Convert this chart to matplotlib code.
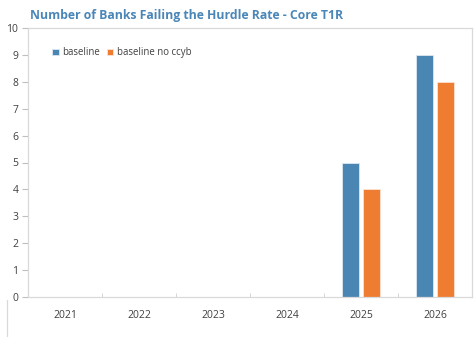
import numpy as np
import matplotlib.pyplot as plt
from matplotlib.lines import Line2D

years = ['2021', '2022', '2023', '2024', '2025', '2026']
baseline = [0, 0, 0, 0, 5, 9]
baseline_no_ccyb = [0, 0, 0, 0, 4, 8]

blue = '#4A86B3'
orange = '#EE7D31'
txt = '#404040'

plt.rcParams['font.family'] = ['Open Sans', 'DejaVu Sans']

fig = plt.figure(figsize=(4.77, 3.37), dpi=100)
ax = fig.add_axes([28 / 477, 1 - 297 / 337, 444 / 477, 269 / 337])

x = np.arange(len(years))
w = 0.22
ax.bar(x - 0.142, baseline, w, color=blue, edgecolor='#DCE8F2', linewidth=0.6, label='baseline')
ax.bar(x + 0.142, baseline_no_ccyb, w, color=orange, edgecolor='#FBE3D2', linewidth=0.6, label='baseline no ccyb')

ax.set_xlim(-0.5, len(years) - 0.5)
ax.set_ylim(0, 10)
ax.set_yticks(range(0, 11))
ax.set_xticks(x)
ax.set_xticklabels(years)
ax.set_xticks(np.arange(0.5, len(years) - 1, 1), minor=True)
ax.tick_params(axis='y', length=4, color='#BFBFBF', labelsize=7.5, labelcolor=txt, pad=3)
ax.tick_params(axis='x', which='major', length=0, labelsize=7.5, labelcolor=txt, pad=9)
ax.tick_params(axis='x', which='minor', length=3, direction='in', color='#D0D0D0')
for s in ax.spines.values():
    s.set_color('#D9D9D9')
    s.set_linewidth(0.9)

ax.legend(loc='upper left', bbox_to_anchor=(0.035, 0.96), ncol=2, frameon=False,
          fontsize=6.9, handlelength=0.7, handleheight=0.7, handletextpad=0.35,
          columnspacing=0.7, labelcolor=txt)

fig.text(30 / 477, 1 - 15 / 337, 'Number of Banks Failing the Hurdle Rate - Core T1R',
         fontsize=8.8, fontweight='bold', color='#4A86B8', va='center', ha='left')

fig.add_artist(Line2D([7 / 477, 7 / 477], [0, 1 - 300 / 337], color='#D9D9D9', lw=0.9))

fig.savefig('out.png', dpi=100)
